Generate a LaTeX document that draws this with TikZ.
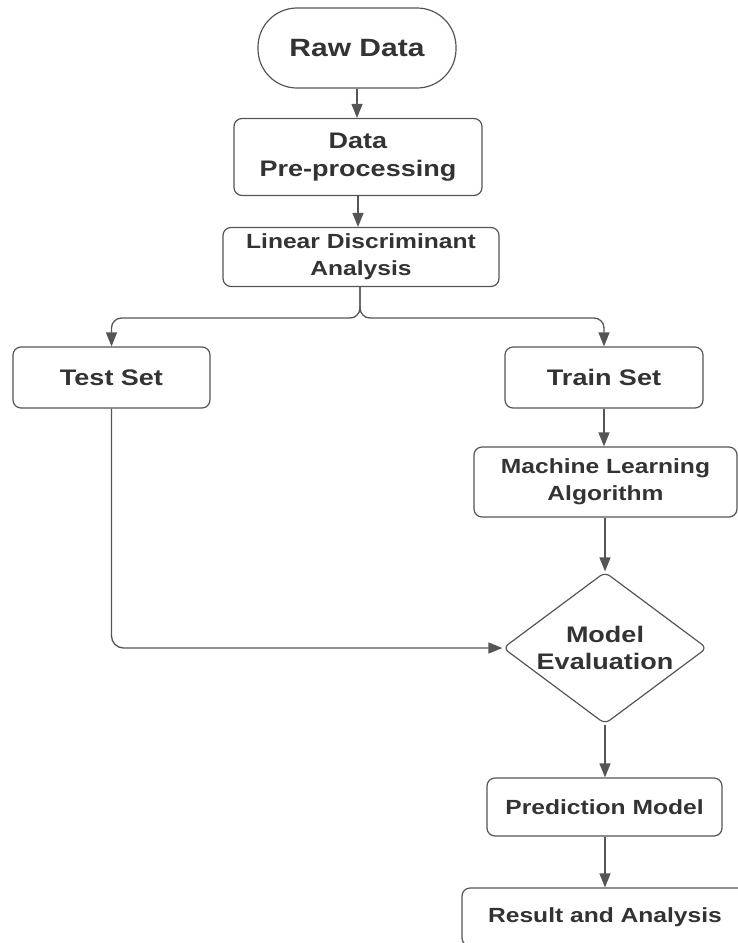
\documentclass[tikz,border=0pt]{standalone}
\usepackage{fontspec}
\setmainfont[FakeStretch=1.2]{Liberation Sans}
\usetikzlibrary{arrows.meta,shapes.geometric}
\definecolor{txt}{HTML}{333333}
\definecolor{ln}{HTML}{555555}
\tikzset{
  box/.style={draw=ln, line width=1.2pt, rounded corners=8pt, rectangle, inner sep=0pt, align=center, text=txt, font=\bfseries\fontsize{20.5}{27}\selectfont},
  bigbox/.style={box, font=\bfseries\fontsize{22.5}{28}\selectfont},
  conn/.style={draw=ln, line width=1.3pt, -{Triangle[length=14pt,width=11pt]}},
}
\begin{document}
\begin{tikzpicture}[x=1pt,y=-1pt]
\useasboundingbox (0,0) rectangle (738,943);
\clip (0,0) rectangle (738,943);
\node[box, rounded corners=39pt, minimum width=198pt, minimum height=80pt, font=\bfseries\fontsize{25}{30}\selectfont] (raw) at (357,48) {Raw Data};
\node[bigbox, minimum width=248pt, minimum height=77pt] (pre) at (358,157) {Data\\Pre-processing};
\node[box, minimum width=276pt, minimum height=59pt] (lda) at (361,257) {Linear Discriminant\\Analysis};
\node[bigbox, minimum width=197pt, minimum height=61pt] (test) at (111.5,377.5) {Test Set};
\node[bigbox, minimum width=198pt, minimum height=61pt] (train) at (604,377.5) {Train Set};
\node[box, minimum width=263pt, minimum height=70pt] (ml) at (605.5,482) {Machine Learning\\Algorithm};
\node[diamond, draw=ln, line width=1.2pt, rounded corners=6pt, minimum width=204pt, minimum height=152pt, inner sep=0pt] (eval) at (605,648) {};
\node[align=center, text=txt, font=\bfseries\fontsize{22.5}{27}\selectfont, inner sep=0pt] (evaltxt) at (eval.center) {Model\\Evaluation};
\node[box, minimum width=235pt, minimum height=58pt] (pred) at (604.5,807) {Prediction Model};
\node[box, minimum width=286pt, minimum height=58pt] (res) at (605,917) {Result and Analysis};
\coordinate (split) at (360,318);
\draw[conn] (raw.south) -- (raw.south |- pre.north);
\draw[conn] (pre.south) -- (pre.south |- lda.north);
\draw[conn, rounded corners=10pt] (lda.south -| split) -- (split) -- (split -| test.north) -- (test.north);
\draw[conn, rounded corners=10pt] (lda.south -| split) -- (split) -- (split -| train.north) -- (train.north);
\draw[conn] (train.south) -- (ml.north -| train.south);
\draw[conn] (ml.south -| eval.north) -- (eval.north);
\draw[conn, rounded corners=12pt] (test.south) |- (eval.west);
\draw[conn] (eval.south) -- (pred.north -| eval.south);
\draw[conn] (pred.south -| res.north) -- (res.north);
\end{tikzpicture}
\end{document}
